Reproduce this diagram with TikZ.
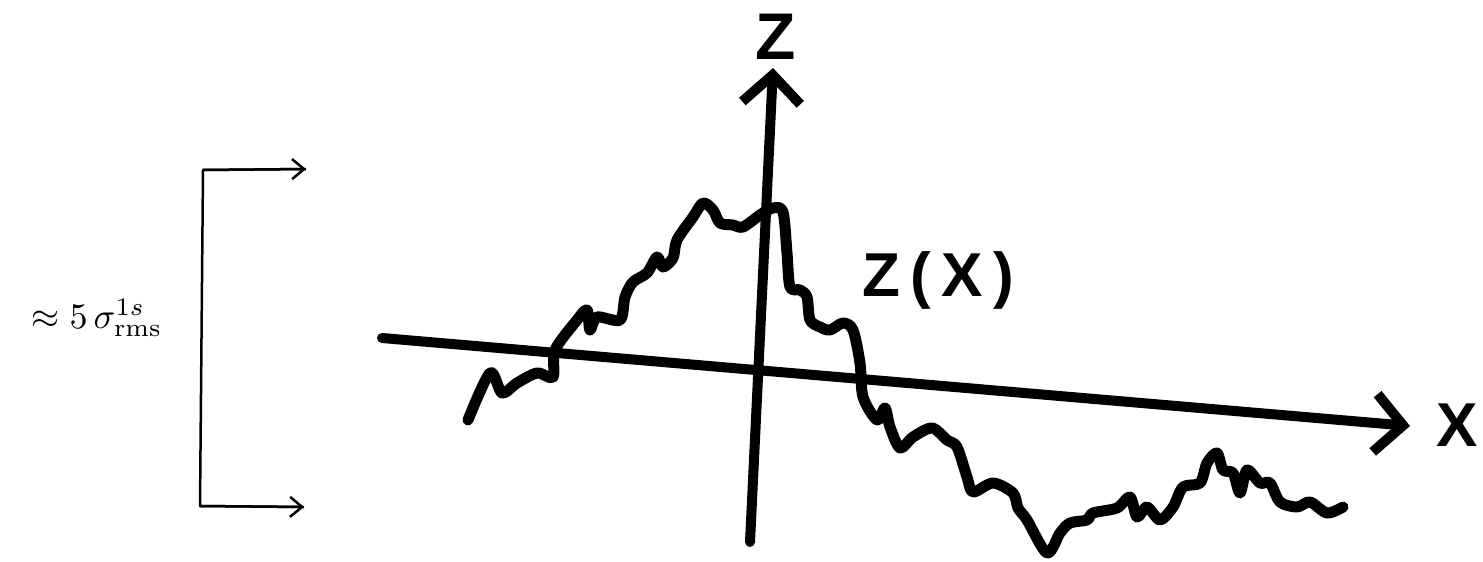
\documentclass[tikz,border=0pt]{standalone}
\usepackage{fontspec}
\setsansfont{Liberation Sans}
\usetikzlibrary{arrows.meta}
\begin{document}
\begin{tikzpicture}[x=1pt,y=-1pt,
  axis/.style={line width=10pt, line cap=round, -{Straight Barb[length=28pt,width=58pt,line width=10pt]}},
  curve/.style={line width=11pt, line cap=round, line join=round},
  bracketline/.style={line width=2.5pt, -{Straight Barb[length=12pt,width=20pt,line width=2.5pt]}},
  lbl/.style={inner sep=0pt, font=\sffamily\bfseries}]
\useasboundingbox (0,0) rectangle (1483,562);
% axes
\coordinate (xl) at (382,338);
\coordinate (xr) at (1410,426);
\coordinate (zb) at (750,542);
\coordinate (zt) at (773,68);
\draw[axis] (xl) -- (xr);
\draw[axis] (zb) -- (zt);
\node[lbl, font=\sffamily\bfseries\fontsize{66}{70}\selectfont] (zlab) at (776,37) {Z};
\node[lbl, font=\sffamily\bfseries\fontsize{62}{66}\selectfont] (xlab) at (1457,425) {X};
\node[lbl, font=\sffamily\bfseries\fontsize{62}{66}\selectfont] (zx) at (938,280) {Z\,(\,X\,)};
% rough profile
\draw[curve] plot[smooth, tension=0.5] coordinates {
(468,420) (490,373) (502,393) (517,383) (537,373) (553,377) (555,350) (577,320)
(587,310) (590,330) (597,317) (620,320) (625,297) (633,282) (647,273) (657,257)
(663,267) (673,258) (677,240) (693,217) (703,203) (713,210) (720,223) (733,225)
(743,227) (760,215) (773,208) (783,212) (787,253) (790,287) (800,290) (807,297)
(810,320) (820,327) (830,330) (843,323) (853,330) (860,363) (863,397) (877,420)
(885,408) (890,427) (900,448) (913,437) (932,428) (947,440) (957,447) (967,477)
(973,492) (993,483) (1013,493) (1018,508) (1027,520) (1047,553) (1060,533)
(1070,523) (1087,520) (1093,513) (1117,508) (1130,497) (1137,517) (1147,507)
(1160,520) (1173,507) (1183,487) (1200,483) (1207,463) (1217,453) (1223,470)
(1233,473) (1240,493) (1247,470) (1260,483) (1270,483) (1280,502) (1297,507)
(1310,502) (1327,513) (1343,507)};
% bracket
\coordinate (bt) at (203,170);
\coordinate (bb) at (200,506);
\coordinate (at) at (306,169);
\coordinate (ab) at (304,507);
\draw[line width=2.5pt, line join=round] (at) -- (bt) -- (bb) -- (ab);
\draw[bracketline] (bt) -- (at);
\draw[bracketline] (bb) -- (ab);
\node[inner sep=0pt, scale=3.6, transform shape] (sig) at (97,318) {$\approx 5\,\sigma^{1s}_{\mathrm{rms}}$};
\end{tikzpicture}
\end{document}
